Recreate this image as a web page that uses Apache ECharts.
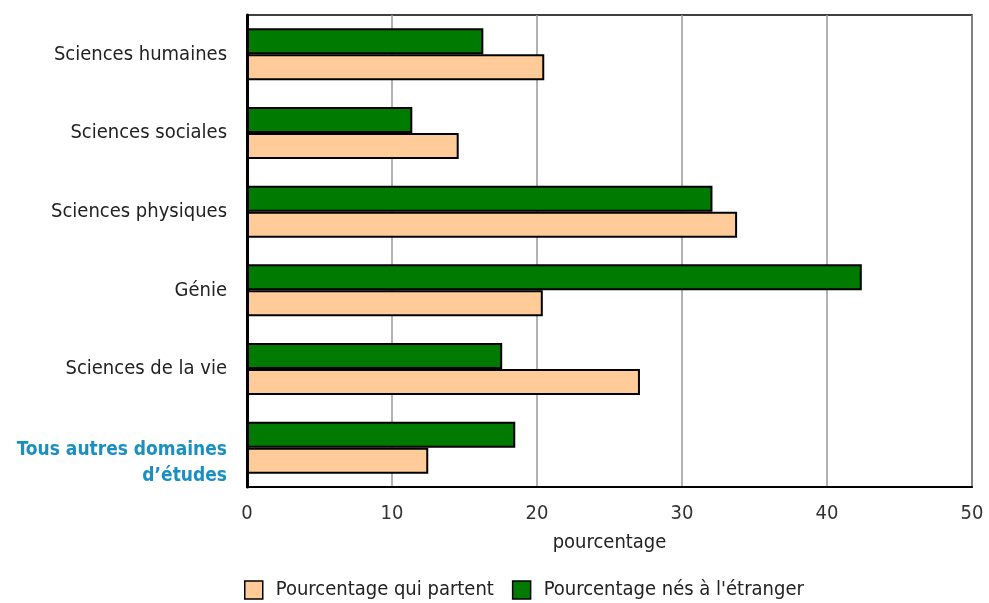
<!DOCTYPE html>
<html>
<head>
<meta charset="utf-8">
<script src="https://cdn.jsdelivr.net/npm/echarts@6/dist/echarts.min.js"></script>
<style>
  html, body { margin: 0; padding: 0; background: #fff; }
  #chart { width: 989px; height: 603px; }
</style>
</head>
<body>
<div id="chart"></div>
<script>
const categories = ['Sciences humaines', 'Sciences sociales', 'Sciences physiques', 'Génie', 'Sciences de la vie', 'Tous autres domaines\nd\u2019études']
const partent = [20.5, 14.6, 33.8, 20.4, 27.1, 12.5]
const nesEtranger = [16.3, 11.4, 32.1, 42.4, 17.6, 18.5]
const xTicks = [0, 10, 20, 30, 40, 50]

const fontFamily = '"Liberation Sans Narrow", "DejaVu Sans Condensed", "Roboto", sans-serif'
const orange = '#FFCC99'
const green = '#007A00'

const chart = echarts.init(document.getElementById('chart'))
const option = {
  animation: false,
  textStyle: { fontFamily: fontFamily },
  grid: { left: 247, right: 17, top: 15, bottom: 116, show: true, borderColor: '#000', borderWidth: 1.5 },
  legend: {
    bottom: -2,
    left: 239,
    icon: 'rect',
    itemWidth: 18,
    itemHeight: 18,
    itemGap: 18,
    itemStyle: { borderColor: '#000', borderWidth: 1.5 },
    data: ['Pourcentage qui partent', 'Pourcentage nés à l\'étranger'],
    textStyle: { fontSize: 20, color: '#222', fontFamily: fontFamily, padding: [0, 0, 0, 8] }
  },
  xAxis: {
    type: 'value',
    min: xTicks[0],
    max: xTicks[xTicks.length - 1],
    interval: 10,
    name: 'pourcentage',
    nameLocation: 'middle',
    nameGap: 46,
    nameTextStyle: { fontSize: 20, color: '#222' },
    axisLine: { show: true, lineStyle: { color: '#000', width: 2 } },
    axisTick: { show: false },
    axisLabel: { fontSize: 20, color: '#333', margin: 17 },
    splitLine: { show: true, lineStyle: { color: '#999', width: 1.5 } }
  },
  yAxis: {
    type: 'category',
    inverse: true,
    data: categories,
    axisLine: { show: true, lineStyle: { color: '#000', width: 3 } },
    axisTick: { show: false },
    axisLabel: {
      fontSize: 20,
      color: '#222',
      margin: 20,
      lineHeight: 30,
      formatter: function (v, i) {
        if (i === categories.length - 1) {
          return '\n' + v.split('\n').map(function (s) { return '{b|' + s + '}' }).join('\n')
        }
        return v
      },
      rich: {
        b: { fontSize: 19, fontWeight: 'bold', color: '#1A8FC2', align: 'right', lineHeight: 26, fontFamily: fontFamily }
      }
    }
  },
  series: [
    {
      name: 'Pourcentage nés à l\'étranger',
      type: 'bar',
      data: nesEtranger,
      barWidth: 26,
      barGap: '0%',
      barCategoryGap: '33%',
      itemStyle: { color: green, borderColor: '#000', borderWidth: 2 }
    },
    {
      name: 'Pourcentage qui partent',
      type: 'bar',
      data: partent,
      barWidth: 26,
      barGap: '0%',
      itemStyle: { color: orange, borderColor: '#000', borderWidth: 2 }
    }
  ]
}
chart.setOption(option)
</script>
</body>
</html>
